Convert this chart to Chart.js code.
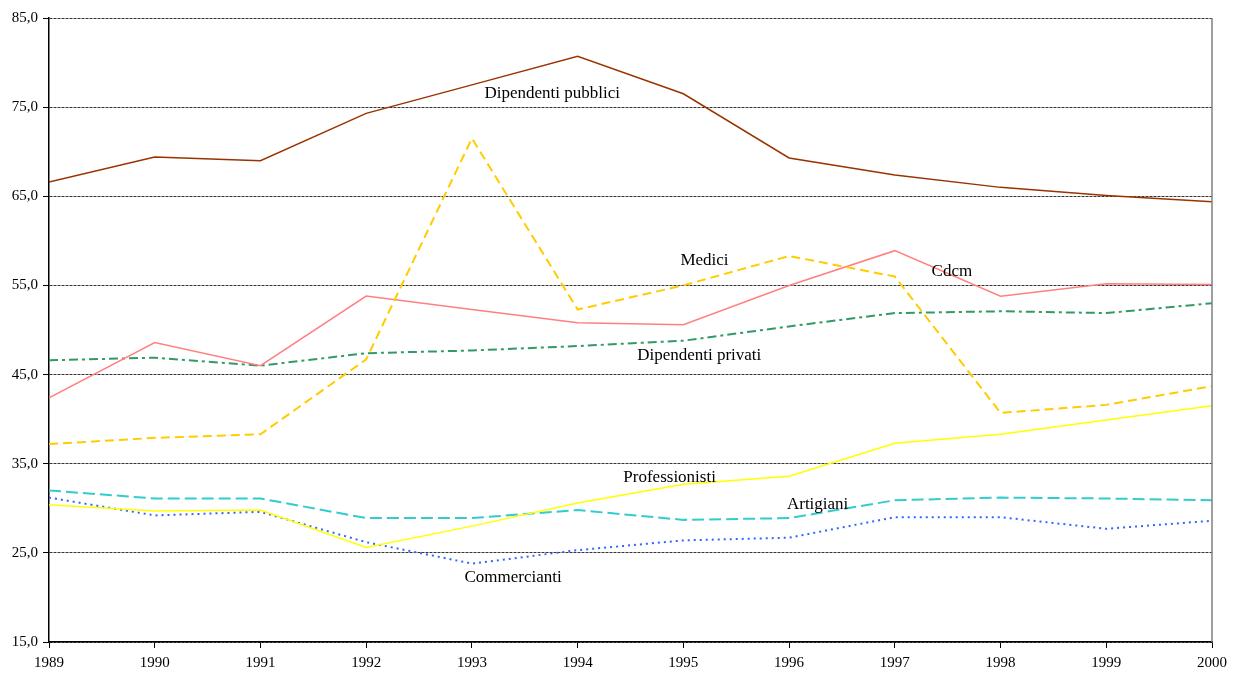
<html>
<head>
	<script src="https://cdn.jsdelivr.net/npm/chart.js@4.4.1/dist/chart.umd.min.js"></script>
	<style>
		body { margin: 0; background: #fff; }
	</style>
</head>
<body>
	<div style="width: 1242px; height: 675px">
		<canvas id="myChart"></canvas>
	</div>
</body>
<script>

const years = [1989, 1990, 1991, 1992, 1993, 1994, 1995, 1996, 1997, 1998, 1999, 2000];

const dipPubblici   = [66.6, 69.4, 69.0, 74.3, 77.5, 80.7, 76.5, 69.3, 67.4, 66.0, 65.1, 64.4];
const medici        = [37.2, 37.9, 38.3, 46.7, 71.5, 52.3, 55.0, 58.3, 56.0, 40.7, 41.6, 43.7];
const cdcm          = [42.4, 48.6, 46.0, 53.8, 52.3, 50.8, 50.6, 55.0, 58.9, 53.8, 55.2, 55.1];
const dipPrivati    = [46.6, 46.9, 46.0, 47.4, 47.7, 48.2, 48.8, 50.4, 51.9, 52.1, 51.9, 53.0];
const professionisti = [30.4, 29.7, 29.8, 25.6, 28.0, 30.6, 32.7, 33.6, 37.3, 38.3, 39.9, 41.5];
const artigiani     = [32.0, 31.1, 31.1, 28.9, 28.9, 29.8, 28.7, 28.9, 30.9, 31.2, 31.1, 30.9];
const commercianti  = [31.2, 29.2, 29.6, 26.2, 23.8, 25.3, 26.4, 26.7, 29.0, 29.0, 27.7, 28.6];

// series names written inside the plot, anchored in data units
const seriesLabels = [
  { text: 'Dipendenti pubblici', x: 1993.76, y: 76.5 },
  { text: 'Medici', x: 1995.20, y: 57.8 },
  { text: 'Cdcm', x: 1997.54, y: 56.6 },
  { text: 'Dipendenti privati', x: 1995.15, y: 47.1 },
  { text: 'Professionisti', x: 1994.87, y: 33.4 },
  { text: 'Artigiani', x: 1996.27, y: 30.4 },
  { text: 'Commercianti', x: 1993.39, y: 22.2 }
];

const points = (vals) => vals.map((v, i) => ({ x: years[i], y: v }));

const line = (label, vals, color, width, dash) => ({
  label: label,
  data: points(vals),
  borderColor: color,
  backgroundColor: color,
  borderWidth: width,
  borderDash: dash,
  pointRadius: 0,
  tension: 0,
  fill: false
});

const data = {
  datasets: [
    line('Dipendenti pubblici', dipPubblici, '#993300', 1.5, []),
    line('Medici', medici, '#FFCC00', 2, [9, 5]),
    line('Cdcm', cdcm, '#FF8080', 1.5, []),
    line('Dipendenti privati', dipPrivati, '#339966', 2, [9, 4, 3, 4]),
    line('Professionisti', professionisti, '#FFFF00', 1.5, []),
    line('Artigiani', artigiani, '#33CCCC', 2, [12, 5]),
    line('Commercianti', commercianti, '#3366FF', 2, [2, 4])
  ]
};

const extras = {
  id: 'extras',
  afterDraw(chart) {
    const ctx = chart.ctx;
    const a = chart.chartArea;
    const xs = chart.scales.x;
    const ys = chart.scales.y;
    ctx.save();
    // right frame line
    ctx.strokeStyle = '#808080';
    ctx.lineWidth = 1.5;
    ctx.beginPath();
    ctx.moveTo(a.right, a.top);
    ctx.lineTo(a.right, a.bottom);
    ctx.stroke();
    // in-plot series names
    ctx.fillStyle = '#000';
    ctx.font = '17px "Liberation Serif", "Times New Roman", serif';
    ctx.textAlign = 'center';
    ctx.textBaseline = 'middle';
    seriesLabels.forEach(l => {
      ctx.fillText(l.text, xs.getPixelForValue(l.x), ys.getPixelForValue(l.y));
    });
    ctx.restore();
  }
};

const tickFont = { family: '"Liberation Serif", "Times New Roman", serif', size: 15 };

const config = {
  type: 'line',
  data: data,
  options: {
    maintainAspectRatio: false,
    responsive: true,
    animation: false,
    layout: { padding: { top: 18, right: 30, left: 0, bottom: 0 } },
    plugins: {
      legend: { display: false },
      tooltip: { enabled: false }
    },
    scales: {
      x: {
        type: 'linear',
        min: 1989,
        max: 2000,
        ticks: {
          stepSize: 1,
          color: '#000',
          font: tickFont,
          padding: 6,
          maxRotation: 0,
          callback: (v) => String(v)
        },
        grid: {
          drawOnChartArea: false,
          drawTicks: true,
          tickLength: 6,
          tickColor: '#000'
        },
        border: { color: '#000', width: 1.5 },
        afterFit: (s) => { s.height = 33; }
      },
      y: {
        min: 15,
        max: 85,
        ticks: {
          stepSize: 10,
          color: '#000',
          font: tickFont,
          padding: 5,
          callback: (v) => v.toFixed(1).replace('.', ',')
        },
        grid: {
          color: '#333',
          lineWidth: 1,
          tickLength: 6,
          tickColor: '#000',
          tickBorderDash: []
        },
        border: { color: '#000', width: 1.5, dash: [3, 1] },
        afterFit: (s) => { s.width = 49; }
      }
    }
  },
  plugins: [extras]
};

var ctx = document.getElementById('myChart');
var myChart = new Chart(ctx, config);

</script>
</html>
